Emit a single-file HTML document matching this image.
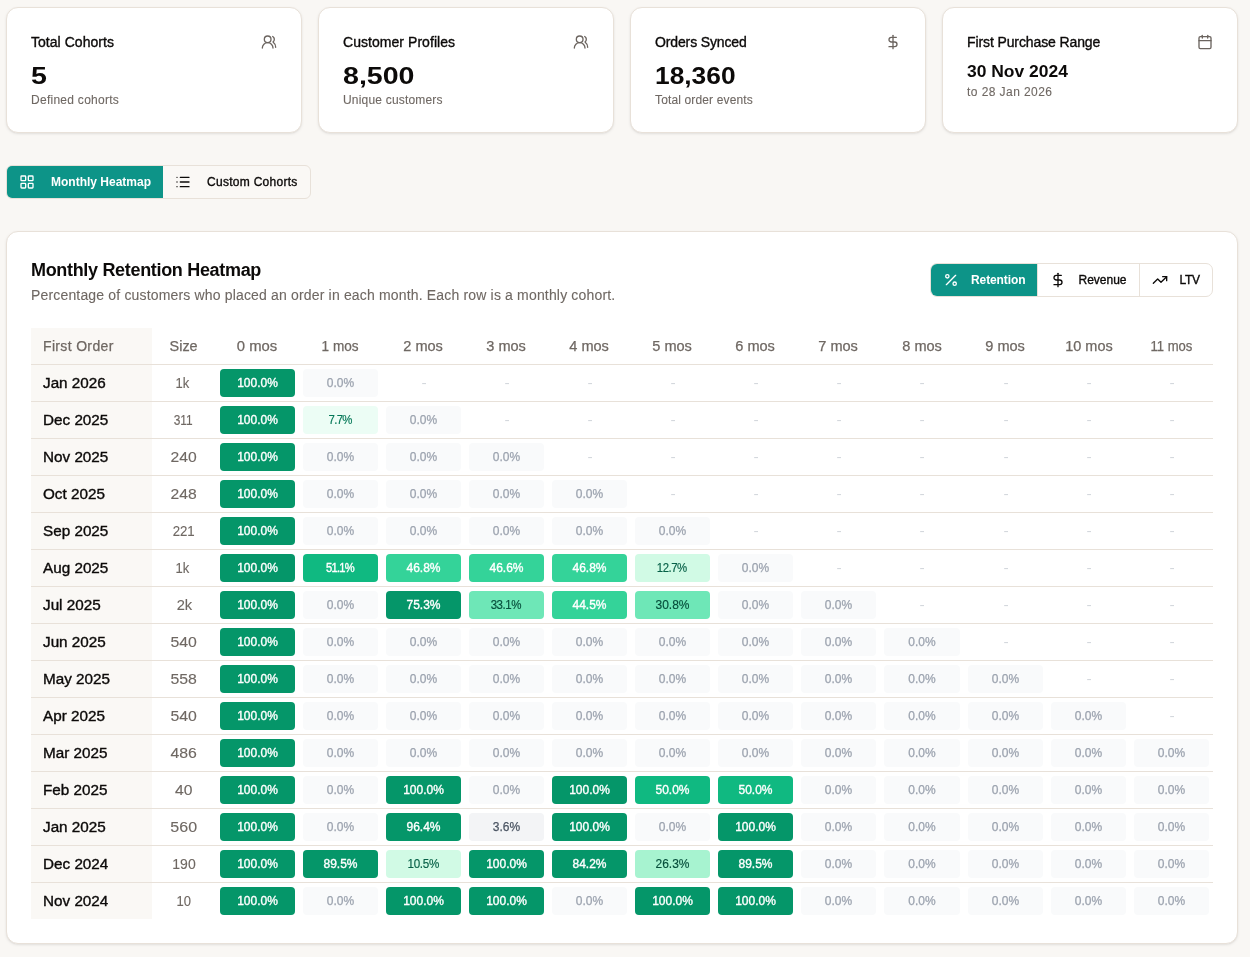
<!DOCTYPE html>
<html lang="en">
<head>
<meta charset="utf-8">
<title>Cohort Analysis</title>
<style>
*{box-sizing:border-box;margin:0;padding:0}
html,body{width:1250px;height:957px;overflow:hidden}
body{background:#f9f7f4;font-family:"Liberation Sans",sans-serif;color:#0c0a09;position:relative}
span{display:inline-block;white-space:nowrap;transform-origin:0 50%}
.md{-webkit-text-stroke:.35px currentColor}
.hd{-webkit-text-stroke:.25px currentColor}
.sv{-webkit-text-stroke:.12px currentColor}
.lt{-webkit-text-stroke:.15px currentColor}
.card{position:absolute;background:#fff;border:1px solid #e8e1d9;border-radius:12px;box-shadow:0 1px 3px 0 rgba(0,0,0,.08),0 1px 2px -1px rgba(0,0,0,.08)}
.stat{top:7px;width:296px;height:126px}
.stat .t{position:absolute;left:24px;top:24px;font-size:14px;line-height:20px;color:#0c0a09;white-space:nowrap}
.stat .v{position:absolute;left:24px;top:52px;font-size:24px;line-height:32px;font-weight:700;color:#0c0a09;white-space:nowrap}
.stat .s{position:absolute;left:24px;top:84px;font-size:12px;line-height:16px;color:#6f6863;-webkit-text-stroke:.1px currentColor;white-space:nowrap}
.stat svg{position:absolute;right:24px;top:26px;width:16px;height:16px;stroke:#6b645f;fill:none;stroke-width:2;stroke-linecap:round;stroke-linejoin:round}
.stat.d .v{font-size:16px;line-height:24px;top:52px}
.stat.d .s{top:76px}
.tabs{position:absolute;left:6px;top:165px;height:34px;width:305px;border:1px solid #e8e1d9;border-radius:6px;background:#faf8f5;overflow:hidden;display:flex}
.tab{display:block;border:0;background:none;padding:0;margin:0;font-family:inherit;text-align:left;flex:none;height:32px;font-size:12px;white-space:nowrap;position:relative;color:#0c0a09}
.tab svg{width:16px;height:16px;fill:none;stroke:currentColor;stroke-width:2;stroke-linecap:round;stroke-linejoin:round;position:absolute;top:8px;left:12px}
.tab span{position:absolute;top:8px;line-height:16px}
.tab.on{background:#0d9488;color:#fff;font-weight:700}
.main{left:6px;top:231px;width:1232px;height:713px}
h2{position:absolute;left:24px;top:24px;font-size:18px;line-height:28px;font-weight:700;white-space:nowrap;color:#0c0a09}
.sub{position:absolute;left:24px;top:53px;font-size:14px;line-height:20px;color:#6f6863;-webkit-text-stroke:.1px currentColor;white-space:nowrap}
.tg{position:absolute;left:923px;top:31px;width:283px;height:34px;border:1px solid #e8e1d9;border-radius:7px;background:#fff;overflow:hidden;display:flex}
.tg .tab.b{border-left:1px solid #e8e1d9}
.hm{position:absolute;left:24px;top:96px;width:1182px;font-size:14px;display:block;border-collapse:separate;border-spacing:0}
.hm thead,.hm tbody{display:block}
.hm th,.hm td{display:block;font-weight:400;padding:0}
.r{display:grid;grid-template-columns:121px 64px repeat(8,83px) 84px repeat(3,83px);height:37px;border-bottom:1px solid #e8e1d9;line-height:36px}
tbody .r:last-child{border-bottom:0;height:36px}
.r>*{height:36px;text-align:center;white-space:nowrap}
.r.h{color:#6f6863}
.hm .r .fo{background:#faf8f5;text-align:left;padding-left:12px}
.r .sz{color:#6f6863}
.hm .r .m{padding:4px 4px}
.hm .r.h .m{padding:0}
.r span{transform-origin:50% 50%}
.r .fo span{transform-origin:0 50%}
.c{height:28px;line-height:28px;border-radius:4px;font-size:12px;text-align:center}
.c.z{background:#f9fafb;color:#9ca3af}
.c.d{color:#d1d5db}
.c.g1{background:#f3f4f6;color:#4b5563}
.c.e50{background:#ecfdf5;color:#047857}
.c.e100{background:#d1fae5;color:#065f46}
.c.e200{background:#a7f3d0;color:#064e3b}
.c.e300{background:#6ee7b7;color:#064e3b}
.c.e400{background:#34d399;color:#fff}
.c.e500{background:#10b981;color:#fff}
.c.e600{background:#059669;color:#fff}
</style>
</head>
<body>
<div class="card stat" style="left:6px"><div class="t"><span class="md" style="letter-spacing:.04px">Total Cohorts</span></div><div class="v"><span style="transform:scaleX(1.19)">5</span></div><div class="s"><span style="letter-spacing:.27px">Defined cohorts</span></div>
<svg viewBox="0 0 24 24"><path d="M18 21a8 8 0 0 0-16 0"/><circle cx="10" cy="8" r="5"/><path d="M22 20c0-3.370-2-6.500-4-8a5 5 0 0 0-.450-8.300"/></svg></div>
<div class="card stat" style="left:318px"><div class="t"><span class="md" style="letter-spacing:.05px">Customer Profiles</span></div><div class="v"><span style="transform:scaleX(1.19)">8,500</span></div><div class="s"><span style="letter-spacing:.19px">Unique customers</span></div>
<svg viewBox="0 0 24 24"><path d="M18 21a8 8 0 0 0-16 0"/><circle cx="10" cy="8" r="5"/><path d="M22 20c0-3.370-2-6.500-4-8a5 5 0 0 0-.450-8.300"/></svg></div>
<div class="card stat" style="left:630px"><div class="t"><span class="md" style="letter-spacing:-.13px">Orders Synced</span></div><div class="v"><span style="transform:scaleX(1.097)">18,360</span></div><div class="s"><span style="letter-spacing:.14px">Total order events</span></div>
<svg viewBox="0 0 24 24"><line x1="12" y1="2" x2="12" y2="22"/><path d="M17 5H9.500a3.500 3.500 0 0 0 0 7h5a3.500 3.500 0 0 1 0 7H6"/></svg></div>
<div class="card stat d" style="left:942px"><div class="t"><span class="md" style="letter-spacing:-.11px">First Purchase Range</span></div><div class="v"><span style="transform:scaleX(1.09)">30 Nov 2024</span></div><div class="s"><span style="letter-spacing:.43px">to 28 Jan 2026</span></div>
<svg viewBox="0 0 24 24"><path d="M8 2v4"/><path d="M16 2v4"/><rect x="3" y="4" width="18" height="18" rx="2"/><path d="M3 10h18"/></svg></div>

<div class="tabs">
<button type="button" class="tab on" style="width:156px"><svg viewBox="0 0 24 24"><rect x="3" y="3" width="7" height="7" rx="1"/><rect x="14" y="3" width="7" height="7" rx="1"/><rect x="14" y="14" width="7" height="7" rx="1"/><rect x="3" y="14" width="7" height="7" rx="1"/></svg><span style="left:44px">Monthly Heatmap</span></button>
<button type="button" class="tab" style="width:147px"><svg viewBox="0 0 24 24"><path d="M3 5h.01"/><path d="M3 12h.01"/><path d="M3 19h.01"/><path d="M8 5h13"/><path d="M8 12h13"/><path d="M8 19h13"/></svg><span class="md" style="left:44px;letter-spacing:.28px">Custom Cohorts</span></button>
</div>

<div class="card main">
<h2><span style="letter-spacing:-.32px">Monthly Retention Heatmap</span></h2>
<p class="sub"><span style="letter-spacing:.167px">Percentage of customers who placed an order in each month. Each row is a monthly cohort.</span></p>
<div class="tg">
<button type="button" class="tab on" style="width:106px"><svg viewBox="0 0 24 24"><line x1="19" y1="5" x2="5" y2="19"/><circle cx="6.500" cy="6.500" r="2.500"/><circle cx="17.500" cy="17.500" r="2.500"/></svg><span style="left:40px;letter-spacing:-.1px">Retention</span></button>
<button type="button" class="tab b" style="width:102px"><svg viewBox="0 0 24 24"><line x1="12" y1="2" x2="12" y2="22"/><path d="M17 5H9.500a3.500 3.500 0 0 0 0 7h5a3.500 3.500 0 0 1 0 7H6"/></svg><span class="md" style="left:40.500px">Revenue</span></button>
<button type="button" class="tab b" style="width:73px"><svg viewBox="0 0 24 24"><path d="M16 7h6v6"/><path d="m22 7-8.500 8.500-5-5L2 17"/></svg><span class="md" style="left:39.500px;letter-spacing:-.3px">LTV</span></button>
</div>

<table class="hm">
<thead><tr class="r h"><th class="fo"><span class="hd" style="letter-spacing:.34px">First Order</span></th><th class="sz"><span class="hd" style="transform:scaleX(1.03)">Size</span></th><th class="m"><span class="hd" style="transform:scaleX(1.06)">0 mos</span></th><th class="m"><span class="hd" style="transform:scaleX(0.97)">1 mos</span></th><th class="m"><span class="hd" style="transform:scaleX(1.04)">2 mos</span></th><th class="m"><span class="hd" style="transform:scaleX(1.04)">3 mos</span></th><th class="m"><span class="hd" style="transform:scaleX(1.04)">4 mos</span></th><th class="m"><span class="hd" style="transform:scaleX(1.04)">5 mos</span></th><th class="m"><span class="hd" style="transform:scaleX(1.04)">6 mos</span></th><th class="m"><span class="hd" style="transform:scaleX(1.04)">7 mos</span></th><th class="m"><span class="hd" style="transform:scaleX(1.04)">8 mos</span></th><th class="m"><span class="hd" style="transform:scaleX(1.04)">9 mos</span></th><th class="m"><span class="hd" style="transform:scaleX(1.035)">10 mos</span></th><th class="m"><span class="hd" style="transform:scaleX(0.935)">11 mos</span></th></tr></thead><tbody>
<tr class="r"><td class="fo"><span class="md" style="transform:scaleX(1.09)">Jan 2026</span></td><td class="sz"><span class="sv" style="transform:scaleX(0.93);margin-right:2.6px">1k</span></td><td class="m"><div class="c e600"><span class="md">100.0%</span></div></td><td class="m"><div class="c z"><span class="hd">0.0%</span></div></td><td class="m"><div class="c d"><span style="transform:scaleX(1.3)">-</span></div></td><td class="m"><div class="c d"><span style="transform:scaleX(1.3)">-</span></div></td><td class="m"><div class="c d"><span style="transform:scaleX(1.3)">-</span></div></td><td class="m"><div class="c d"><span style="transform:scaleX(1.3)">-</span></div></td><td class="m"><div class="c d"><span style="transform:scaleX(1.3)">-</span></div></td><td class="m"><div class="c d"><span style="transform:scaleX(1.3)">-</span></div></td><td class="m"><div class="c d"><span style="transform:scaleX(1.3)">-</span></div></td><td class="m"><div class="c d"><span style="transform:scaleX(1.3)">-</span></div></td><td class="m"><div class="c d"><span style="transform:scaleX(1.3)">-</span></div></td><td class="m"><div class="c d"><span style="transform:scaleX(1.3)">-</span></div></td></tr>
<tr class="r"><td class="fo"><span class="md" style="transform:scaleX(1.09)">Dec 2025</span></td><td class="sz"><span class="sv" style="transform:scaleX(0.85);margin-right:1.6px">311</span></td><td class="m"><div class="c e600"><span class="md">100.0%</span></div></td><td class="m"><div class="c e50"><span class="lt" style="transform:scaleX(0.95);letter-spacing:-0.75px;margin-right:0.75px">7.7%</span></div></td><td class="m"><div class="c z"><span class="hd">0.0%</span></div></td><td class="m"><div class="c d"><span style="transform:scaleX(1.3)">-</span></div></td><td class="m"><div class="c d"><span style="transform:scaleX(1.3)">-</span></div></td><td class="m"><div class="c d"><span style="transform:scaleX(1.3)">-</span></div></td><td class="m"><div class="c d"><span style="transform:scaleX(1.3)">-</span></div></td><td class="m"><div class="c d"><span style="transform:scaleX(1.3)">-</span></div></td><td class="m"><div class="c d"><span style="transform:scaleX(1.3)">-</span></div></td><td class="m"><div class="c d"><span style="transform:scaleX(1.3)">-</span></div></td><td class="m"><div class="c d"><span style="transform:scaleX(1.3)">-</span></div></td><td class="m"><div class="c d"><span style="transform:scaleX(1.3)">-</span></div></td></tr>
<tr class="r"><td class="fo"><span class="md" style="transform:scaleX(1.09)">Nov 2025</span></td><td class="sz"><span class="sv" style="transform:scaleX(1.12)">240</span></td><td class="m"><div class="c e600"><span class="md">100.0%</span></div></td><td class="m"><div class="c z"><span class="hd">0.0%</span></div></td><td class="m"><div class="c z"><span class="hd">0.0%</span></div></td><td class="m"><div class="c z"><span class="hd">0.0%</span></div></td><td class="m"><div class="c d"><span style="transform:scaleX(1.3)">-</span></div></td><td class="m"><div class="c d"><span style="transform:scaleX(1.3)">-</span></div></td><td class="m"><div class="c d"><span style="transform:scaleX(1.3)">-</span></div></td><td class="m"><div class="c d"><span style="transform:scaleX(1.3)">-</span></div></td><td class="m"><div class="c d"><span style="transform:scaleX(1.3)">-</span></div></td><td class="m"><div class="c d"><span style="transform:scaleX(1.3)">-</span></div></td><td class="m"><div class="c d"><span style="transform:scaleX(1.3)">-</span></div></td><td class="m"><div class="c d"><span style="transform:scaleX(1.3)">-</span></div></td></tr>
<tr class="r"><td class="fo"><span class="md" style="transform:scaleX(1.09)">Oct 2025</span></td><td class="sz"><span class="sv" style="transform:scaleX(1.12)">248</span></td><td class="m"><div class="c e600"><span class="md">100.0%</span></div></td><td class="m"><div class="c z"><span class="hd">0.0%</span></div></td><td class="m"><div class="c z"><span class="hd">0.0%</span></div></td><td class="m"><div class="c z"><span class="hd">0.0%</span></div></td><td class="m"><div class="c z"><span class="hd">0.0%</span></div></td><td class="m"><div class="c d"><span style="transform:scaleX(1.3)">-</span></div></td><td class="m"><div class="c d"><span style="transform:scaleX(1.3)">-</span></div></td><td class="m"><div class="c d"><span style="transform:scaleX(1.3)">-</span></div></td><td class="m"><div class="c d"><span style="transform:scaleX(1.3)">-</span></div></td><td class="m"><div class="c d"><span style="transform:scaleX(1.3)">-</span></div></td><td class="m"><div class="c d"><span style="transform:scaleX(1.3)">-</span></div></td><td class="m"><div class="c d"><span style="transform:scaleX(1.3)">-</span></div></td></tr>
<tr class="r"><td class="fo"><span class="md" style="transform:scaleX(1.09)">Sep 2025</span></td><td class="sz"><span class="sv" style="transform:scaleX(0.945)">221</span></td><td class="m"><div class="c e600"><span class="md">100.0%</span></div></td><td class="m"><div class="c z"><span class="hd">0.0%</span></div></td><td class="m"><div class="c z"><span class="hd">0.0%</span></div></td><td class="m"><div class="c z"><span class="hd">0.0%</span></div></td><td class="m"><div class="c z"><span class="hd">0.0%</span></div></td><td class="m"><div class="c z"><span class="hd">0.0%</span></div></td><td class="m"><div class="c d"><span style="transform:scaleX(1.3)">-</span></div></td><td class="m"><div class="c d"><span style="transform:scaleX(1.3)">-</span></div></td><td class="m"><div class="c d"><span style="transform:scaleX(1.3)">-</span></div></td><td class="m"><div class="c d"><span style="transform:scaleX(1.3)">-</span></div></td><td class="m"><div class="c d"><span style="transform:scaleX(1.3)">-</span></div></td><td class="m"><div class="c d"><span style="transform:scaleX(1.3)">-</span></div></td></tr>
<tr class="r"><td class="fo"><span class="md" style="transform:scaleX(1.09)">Aug 2025</span></td><td class="sz"><span class="sv" style="transform:scaleX(0.93);margin-right:2.6px">1k</span></td><td class="m"><div class="c e600"><span class="md">100.0%</span></div></td><td class="m"><div class="c e500"><span class="md" style="transform:scaleX(0.93);letter-spacing:-0.8px;margin-right:0.8px">51.1%</span></div></td><td class="m"><div class="c e400"><span class="md">46.8%</span></div></td><td class="m"><div class="c e400"><span class="md">46.6%</span></div></td><td class="m"><div class="c e400"><span class="md">46.8%</span></div></td><td class="m"><div class="c e100"><span class="lt" style="transform:scaleX(0.95);letter-spacing:-0.5px;margin-right:0.5px">12.7%</span></div></td><td class="m"><div class="c z"><span class="hd">0.0%</span></div></td><td class="m"><div class="c d"><span style="transform:scaleX(1.3)">-</span></div></td><td class="m"><div class="c d"><span style="transform:scaleX(1.3)">-</span></div></td><td class="m"><div class="c d"><span style="transform:scaleX(1.3)">-</span></div></td><td class="m"><div class="c d"><span style="transform:scaleX(1.3)">-</span></div></td><td class="m"><div class="c d"><span style="transform:scaleX(1.3)">-</span></div></td></tr>
<tr class="r"><td class="fo"><span class="md" style="transform:scaleX(1.09)">Jul 2025</span></td><td class="sz"><span class="sv" style="transform:scaleX(1.05)">2k</span></td><td class="m"><div class="c e600"><span class="md">100.0%</span></div></td><td class="m"><div class="c z"><span class="hd">0.0%</span></div></td><td class="m"><div class="c e600"><span class="md">75.3%</span></div></td><td class="m"><div class="c e300"><span class="lt" style="transform:scaleX(0.96);letter-spacing:-0.45px;margin-right:0.45px">33.1%</span></div></td><td class="m"><div class="c e400"><span class="md">44.5%</span></div></td><td class="m"><div class="c e300"><span class="lt">30.8%</span></div></td><td class="m"><div class="c z"><span class="hd">0.0%</span></div></td><td class="m"><div class="c z"><span class="hd">0.0%</span></div></td><td class="m"><div class="c d"><span style="transform:scaleX(1.3)">-</span></div></td><td class="m"><div class="c d"><span style="transform:scaleX(1.3)">-</span></div></td><td class="m"><div class="c d"><span style="transform:scaleX(1.3)">-</span></div></td><td class="m"><div class="c d"><span style="transform:scaleX(1.3)">-</span></div></td></tr>
<tr class="r"><td class="fo"><span class="md" style="transform:scaleX(1.09)">Jun 2025</span></td><td class="sz"><span class="sv" style="transform:scaleX(1.13)">540</span></td><td class="m"><div class="c e600"><span class="md">100.0%</span></div></td><td class="m"><div class="c z"><span class="hd">0.0%</span></div></td><td class="m"><div class="c z"><span class="hd">0.0%</span></div></td><td class="m"><div class="c z"><span class="hd">0.0%</span></div></td><td class="m"><div class="c z"><span class="hd">0.0%</span></div></td><td class="m"><div class="c z"><span class="hd">0.0%</span></div></td><td class="m"><div class="c z"><span class="hd">0.0%</span></div></td><td class="m"><div class="c z"><span class="hd">0.0%</span></div></td><td class="m"><div class="c z"><span class="hd">0.0%</span></div></td><td class="m"><div class="c d"><span style="transform:scaleX(1.3)">-</span></div></td><td class="m"><div class="c d"><span style="transform:scaleX(1.3)">-</span></div></td><td class="m"><div class="c d"><span style="transform:scaleX(1.3)">-</span></div></td></tr>
<tr class="r"><td class="fo"><span class="md" style="transform:scaleX(1.09)">May 2025</span></td><td class="sz"><span class="sv" style="transform:scaleX(1.13)">558</span></td><td class="m"><div class="c e600"><span class="md">100.0%</span></div></td><td class="m"><div class="c z"><span class="hd">0.0%</span></div></td><td class="m"><div class="c z"><span class="hd">0.0%</span></div></td><td class="m"><div class="c z"><span class="hd">0.0%</span></div></td><td class="m"><div class="c z"><span class="hd">0.0%</span></div></td><td class="m"><div class="c z"><span class="hd">0.0%</span></div></td><td class="m"><div class="c z"><span class="hd">0.0%</span></div></td><td class="m"><div class="c z"><span class="hd">0.0%</span></div></td><td class="m"><div class="c z"><span class="hd">0.0%</span></div></td><td class="m"><div class="c z"><span class="hd">0.0%</span></div></td><td class="m"><div class="c d"><span style="transform:scaleX(1.3)">-</span></div></td><td class="m"><div class="c d"><span style="transform:scaleX(1.3)">-</span></div></td></tr>
<tr class="r"><td class="fo"><span class="md" style="transform:scaleX(1.09)">Apr 2025</span></td><td class="sz"><span class="sv" style="transform:scaleX(1.13)">540</span></td><td class="m"><div class="c e600"><span class="md">100.0%</span></div></td><td class="m"><div class="c z"><span class="hd">0.0%</span></div></td><td class="m"><div class="c z"><span class="hd">0.0%</span></div></td><td class="m"><div class="c z"><span class="hd">0.0%</span></div></td><td class="m"><div class="c z"><span class="hd">0.0%</span></div></td><td class="m"><div class="c z"><span class="hd">0.0%</span></div></td><td class="m"><div class="c z"><span class="hd">0.0%</span></div></td><td class="m"><div class="c z"><span class="hd">0.0%</span></div></td><td class="m"><div class="c z"><span class="hd">0.0%</span></div></td><td class="m"><div class="c z"><span class="hd">0.0%</span></div></td><td class="m"><div class="c z"><span class="hd">0.0%</span></div></td><td class="m"><div class="c d"><span style="transform:scaleX(1.3)">-</span></div></td></tr>
<tr class="r"><td class="fo"><span class="md" style="transform:scaleX(1.09)">Mar 2025</span></td><td class="sz"><span class="sv" style="transform:scaleX(1.13)">486</span></td><td class="m"><div class="c e600"><span class="md">100.0%</span></div></td><td class="m"><div class="c z"><span class="hd">0.0%</span></div></td><td class="m"><div class="c z"><span class="hd">0.0%</span></div></td><td class="m"><div class="c z"><span class="hd">0.0%</span></div></td><td class="m"><div class="c z"><span class="hd">0.0%</span></div></td><td class="m"><div class="c z"><span class="hd">0.0%</span></div></td><td class="m"><div class="c z"><span class="hd">0.0%</span></div></td><td class="m"><div class="c z"><span class="hd">0.0%</span></div></td><td class="m"><div class="c z"><span class="hd">0.0%</span></div></td><td class="m"><div class="c z"><span class="hd">0.0%</span></div></td><td class="m"><div class="c z"><span class="hd">0.0%</span></div></td><td class="m"><div class="c z"><span class="hd">0.0%</span></div></td></tr>
<tr class="r"><td class="fo"><span class="md" style="transform:scaleX(1.09)">Feb 2025</span></td><td class="sz"><span class="sv" style="transform:scaleX(1.12)">40</span></td><td class="m"><div class="c e600"><span class="md">100.0%</span></div></td><td class="m"><div class="c z"><span class="hd">0.0%</span></div></td><td class="m"><div class="c e600"><span class="md">100.0%</span></div></td><td class="m"><div class="c z"><span class="hd">0.0%</span></div></td><td class="m"><div class="c e600"><span class="md">100.0%</span></div></td><td class="m"><div class="c e500"><span class="md">50.0%</span></div></td><td class="m"><div class="c e500"><span class="md">50.0%</span></div></td><td class="m"><div class="c z"><span class="hd">0.0%</span></div></td><td class="m"><div class="c z"><span class="hd">0.0%</span></div></td><td class="m"><div class="c z"><span class="hd">0.0%</span></div></td><td class="m"><div class="c z"><span class="hd">0.0%</span></div></td><td class="m"><div class="c z"><span class="hd">0.0%</span></div></td></tr>
<tr class="r"><td class="fo"><span class="md" style="transform:scaleX(1.09)">Jan 2025</span></td><td class="sz"><span class="sv" style="transform:scaleX(1.145)">560</span></td><td class="m"><div class="c e600"><span class="md">100.0%</span></div></td><td class="m"><div class="c z"><span class="hd">0.0%</span></div></td><td class="m"><div class="c e600"><span class="md">96.4%</span></div></td><td class="m"><div class="c g1"><span class="hd">3.6%</span></div></td><td class="m"><div class="c e600"><span class="md">100.0%</span></div></td><td class="m"><div class="c z"><span class="hd">0.0%</span></div></td><td class="m"><div class="c e600"><span class="md">100.0%</span></div></td><td class="m"><div class="c z"><span class="hd">0.0%</span></div></td><td class="m"><div class="c z"><span class="hd">0.0%</span></div></td><td class="m"><div class="c z"><span class="hd">0.0%</span></div></td><td class="m"><div class="c z"><span class="hd">0.0%</span></div></td><td class="m"><div class="c z"><span class="hd">0.0%</span></div></td></tr>
<tr class="r"><td class="fo"><span class="md" style="transform:scaleX(1.09)">Dec 2024</span></td><td class="sz"><span class="sv">190</span></td><td class="m"><div class="c e600"><span class="md">100.0%</span></div></td><td class="m"><div class="c e600"><span class="md">89.5%</span></div></td><td class="m"><div class="c e100"><span class="lt" style="transform:scaleX(0.97);letter-spacing:-0.3px;margin-right:0.3px">10.5%</span></div></td><td class="m"><div class="c e600"><span class="md">100.0%</span></div></td><td class="m"><div class="c e600"><span class="md">84.2%</span></div></td><td class="m"><div class="c e200"><span class="lt">26.3%</span></div></td><td class="m"><div class="c e600"><span class="md">89.5%</span></div></td><td class="m"><div class="c z"><span class="hd">0.0%</span></div></td><td class="m"><div class="c z"><span class="hd">0.0%</span></div></td><td class="m"><div class="c z"><span class="hd">0.0%</span></div></td><td class="m"><div class="c z"><span class="hd">0.0%</span></div></td><td class="m"><div class="c z"><span class="hd">0.0%</span></div></td></tr>
<tr class="r"><td class="fo"><span class="md" style="transform:scaleX(1.09)">Nov 2024</span></td><td class="sz"><span class="sv" style="transform:scaleX(0.93)">10</span></td><td class="m"><div class="c e600"><span class="md">100.0%</span></div></td><td class="m"><div class="c z"><span class="hd">0.0%</span></div></td><td class="m"><div class="c e600"><span class="md">100.0%</span></div></td><td class="m"><div class="c e600"><span class="md">100.0%</span></div></td><td class="m"><div class="c z"><span class="hd">0.0%</span></div></td><td class="m"><div class="c e600"><span class="md">100.0%</span></div></td><td class="m"><div class="c e600"><span class="md">100.0%</span></div></td><td class="m"><div class="c z"><span class="hd">0.0%</span></div></td><td class="m"><div class="c z"><span class="hd">0.0%</span></div></td><td class="m"><div class="c z"><span class="hd">0.0%</span></div></td><td class="m"><div class="c z"><span class="hd">0.0%</span></div></td><td class="m"><div class="c z"><span class="hd">0.0%</span></div></td></tr>
</tbody></table>
</div>
</body>
</html>
